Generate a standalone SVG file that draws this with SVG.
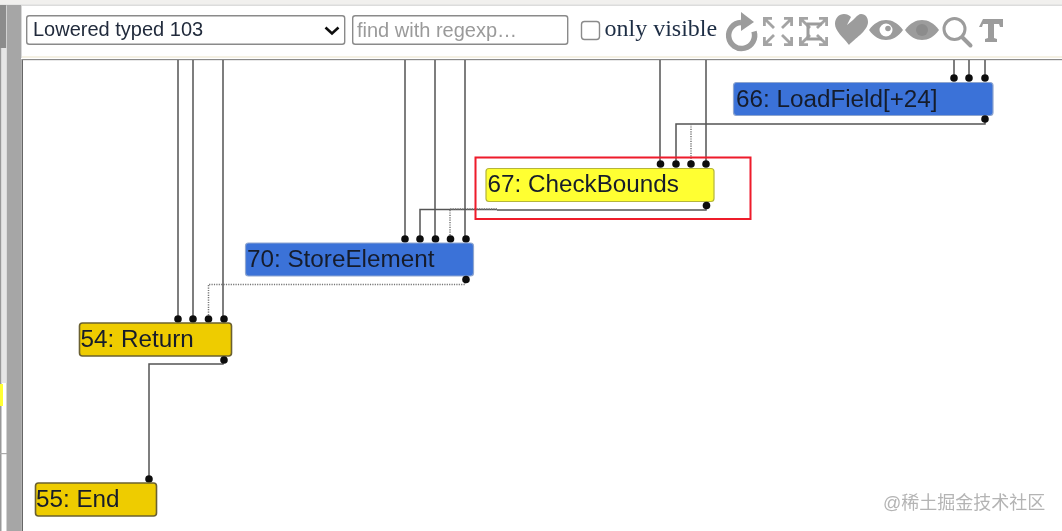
<svg xmlns="http://www.w3.org/2000/svg" width="1062" height="531" viewBox="0 0 1062 531">
<style>
.w{fill:none;stroke:#555;stroke-width:1.5}
.d{fill:none;stroke:#777;stroke-width:1.5;stroke-dasharray:1.2 1.2}
.dot{fill:#111}
.n{stroke-width:1.2;stroke:#999}
.blue{fill:#3a72d8;stroke:#8fa6cf}
.yel{fill:#ffff33;stroke:#b5b53a}
.gold{fill:#eecc00;stroke:#6b6130;stroke-width:1.6}
.t{font-family:"Liberation Sans",Arial,sans-serif;font-size:24.25px;fill:#161c2c}
.ctl{fill:#fff;stroke:#8a8a8a;stroke-width:1.4}
.ic{fill:#9c9c9c}
.il{fill:none;stroke:#9c9c9c}
</style>
<defs>
<circle id="p" r="3.8" class="dot"/>
<path id="a" fill="none" stroke="#a4a4a4" stroke-width="2.800" d="M0 1.400H9M1.400 0V9M1.400 1.400L11 11"/>
<filter id="soft" x="0" y="0" width="100%" height="100%"><feGaussianBlur stdDeviation="0.45"/></filter>
</defs>
<rect width="1062" height="531" fill="#fff"/>
<g filter="url(#soft)">
<rect x="0" y="0" width="1062" height="5" fill="#f1f0ee"/>
<rect x="0" y="4.500" width="1062" height="1.500" fill="#dcdcdc"/>
<rect x="0" y="5" width="6" height="43" fill="#8c8c8c"/>
<rect x="0" y="48" width="1.500" height="483" fill="#999"/>
<rect x="6.500" y="5" width="14.500" height="526" fill="#a6a6a6"/>
<rect x="21" y="5" width="1" height="53" fill="#d8d8d8"/>
<rect x="21.500" y="59" width="1.500" height="472" fill="#666"/>
<rect x="1.500" y="48" width="5" height="335" fill="#e6e6e6"/>
<rect x="0" y="384" width="3" height="22" fill="#ffff33"/>
<rect x="0" y="453" width="7" height="1.200" fill="#aaa"/>
<rect x="22" y="56" width="1040" height="2" fill="#f5f1e4"/>
<rect x="22" y="59" width="1040" height="1.200" fill="#8a8a8a"/>
<g id="toolbar">
<rect class="ctl" x="26.700" y="15.700" width="318" height="28.600" rx="2.500"/>
<text x="33" y="36" font-family="'Liberation Sans',Arial,sans-serif" font-size="20" fill="#222c3c">Lowered typed 103</text>
<path d="M325.500 27.500l6.500 6 6.500-6" fill="none" stroke="#111" stroke-width="2.600"/>
<rect class="ctl" x="352.700" y="15.700" width="215" height="28.600" rx="2.500"/>
<text x="357" y="37" font-family="'Liberation Sans',Arial,sans-serif" font-size="20" fill="#9a9a9a">find with regexp…</text>
<rect class="ctl" x="581.500" y="21.500" width="18" height="18" rx="3"/>
<text x="604.500" y="36" font-family="'Liberation Serif','Times New Roman',serif" font-size="24" fill="#1f2d44">only visible</text>
<g id="icons">
<path class="il" stroke-width="5.500" d="M741 22.500a13 13 0 1 0 13 9"/>
<path class="ic" d="M741 12l13 10-13 9z"/>
<use href="#a" transform="translate(763 17)"/>
<use href="#a" transform="translate(793 17) scale(-1 1)"/>
<use href="#a" transform="translate(763 46) scale(1 -1)"/>
<use href="#a" transform="translate(793 46) scale(-1 -1)"/>
<use href="#a" transform="translate(799 17)"/>
<use href="#a" transform="translate(828 17) scale(-1 1)"/>
<use href="#a" transform="translate(799 46) scale(1 -1)"/>
<use href="#a" transform="translate(828 46) scale(-1 -1)"/>
<path class="il" stroke-width="3" d="M822 24H808V39H822"/>
<path class="ic" d="M849 45C843 37 835 31 835 24c0-6 4-10 9-10 3 0 5 1 7 3l-4 8 6-5 3-3c1-1 3-3 5-3 5 0 7 4 7 8 0 9-14 17-19 23z"/>
<path class="ic" fill-rule="evenodd" d="M869 30c5-7 11-10 17-10s12 3 17 10c-5 7-11 10-17 10s-12-3-17-10zm17-6.500a6.500 6.500 0 1 0 0 13 6.500 6.500 0 0 0 0-13z"/>
<circle class="ic" cx="888" cy="28.500" r="2.800"/>
<path class="ic" d="M905 30c5-7 11-10 17-10s12 3 17 10c-5 7-11 10-17 10s-12-3-17-10z"/>
<circle cx="922" cy="30" r="6" fill="#8c8c8c"/>
<circle class="il" stroke-width="3" cx="954.500" cy="29" r="10.500"/>
<path class="il" stroke-width="4" stroke-linecap="round" d="M962.500 37.500l8 8"/>
<path class="ic" d="M983 19h20v8h-3l-1-3h-5v14l3 1v3h-12v-3l3-1V24h-5l-1 3h-3z"/>
</g>
</g>
<g id="connectors">
<path class="w" d="M954 60V78M969 60V78M985 60V78"/>
<path class="w" d="M985 119V124H676V164"/>
<path class="d" d="M691 124V164"/>
<path class="w" d="M660 60V164M706 60V164"/>
<path class="w" d="M706 206V210H497"/>
<path class="w" d="M497 209.500H420V239"/>
<path class="d" d="M497 209H450V239"/>
<path class="w" d="M405 60V239M435 60V239M465 60V239"/>
<path class="d" d="M465 280V284.500H208.500V319"/>
<path class="w" d="M178 60V319M193 60V319M223 60V319"/>
<path class="w" d="M223 360V364H149V479"/>
</g>
<rect x="475.500" y="157.500" width="275" height="61.500" fill="none" stroke="#ee1c2a" stroke-width="2"/>
<g id="n66">
<use href="#p" x="954" y="78"/><use href="#p" x="969" y="78"/><use href="#p" x="985" y="78"/>
<rect class="n blue" x="733.500" y="82.500" width="259.500" height="33" rx="3"/>
<use href="#p" x="985" y="119"/>
<text class="t" x="736" y="107">66: LoadField[+24]</text>
</g>
<g id="n67">
<use href="#p" x="660.500" y="164"/><use href="#p" x="676" y="164"/><use href="#p" x="691" y="164"/><use href="#p" x="706" y="164"/>
<rect class="n yel" x="486" y="168.500" width="228" height="33" rx="3"/>
<use href="#p" x="706.500" y="205.500"/>
<text class="t" x="487.500" y="192">67: CheckBounds</text>
</g>
<g id="n70">
<use href="#p" x="405" y="239"/><use href="#p" x="420" y="239"/><use href="#p" x="435.500" y="239"/><use href="#p" x="450.500" y="239"/><use href="#p" x="466" y="239"/>
<rect class="n blue" x="245.500" y="243" width="228" height="33" rx="3"/>
<use href="#p" x="466" y="279.500"/>
<text class="t" x="247" y="267">70: StoreElement</text>
</g>
<g id="n54">
<use href="#p" x="178" y="319"/><use href="#p" x="193" y="319"/><use href="#p" x="208.500" y="319"/><use href="#p" x="224" y="319"/>
<rect class="n gold" x="79.500" y="323" width="152" height="33" rx="3"/>
<use href="#p" x="224" y="360"/>
<text class="t" x="80.500" y="346.500">54: Return</text>
</g>
<g id="n55">
<use href="#p" x="149" y="479"/>
<rect class="n gold" x="35.500" y="483" width="121" height="33" rx="3"/>
<text class="t" x="36" y="507">55: End</text>
</g>
<text x="883" y="509" font-family="'Liberation Sans','Noto Sans CJK SC',sans-serif" font-size="18" fill="#b4b4b4">@稀土掘金技术社区</text>
</g>
</svg>
